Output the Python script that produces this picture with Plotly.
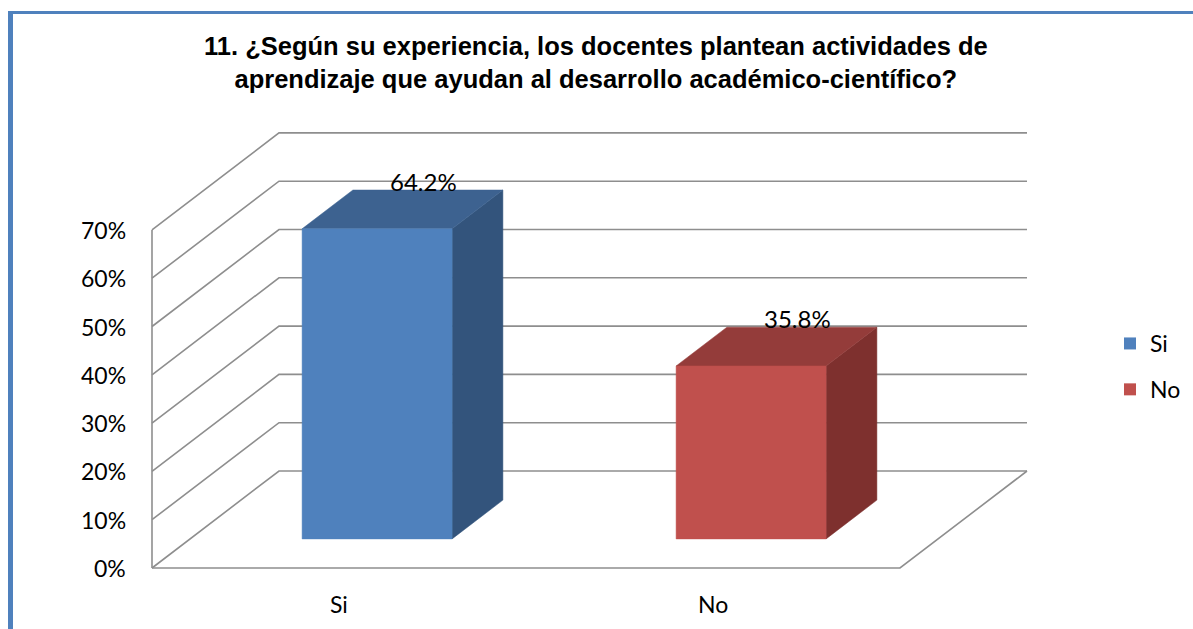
import plotly.graph_objects as go

# ---- data ----
categories = ["Si", "No"]
values = [0.642, 0.358]
value_labels = ["64.2%", "35.8%"]
tick_values = [0.0, 0.1, 0.2, 0.3, 0.4, 0.5, 0.6, 0.7]
tick_labels = ["0%", "10%", "20%", "30%", "40%", "50%", "60%", "70%"]
title_lines = ["11. ¿Según su experiencia, los docentes plantean actividades de",
               "aprendizaje que ayudan al desarrollo académico-científico?"]

front_colors = ["#4F81BD", "#C0504D"]
top_colors = ["#3D6290", "#943C3A"]
side_colors = ["#33547C", "#7E302E"]
grid_color = "#8E8E8E"
text_font = "Lato, Carlito, sans-serif"

W, H = 1193, 629
# pixel geometry of the pseudo-3D frame
PX_PER_CAT = 374.0
PX_PER_UNIT = 483.0
X0_PX, Y0_PX = 152.0, 568.0
DEPTH_DX, DEPTH_DY = 127.0 / PX_PER_CAT, 97.0 / PX_PER_UNIT
xr0 = -0.5 - X0_PX / PX_PER_CAT
xr1 = xr0 + W / PX_PER_CAT
yr0 = -(H - Y0_PX) / PX_PER_UNIT
yr1 = Y0_PX / PX_PER_UNIT
X_MIN, X_MAX = -0.5, len(categories) - 0.5
BAR_HALF = 0.2005
D0, D1 = 0.30, 0.70


def P(xc, v, d):
    return xc + d * DEPTH_DX, v + d * DEPTH_DY


def poly(points):
    xs = [p[0] for p in points] + [points[0][0]]
    ys = [p[1] for p in points] + [points[0][1]]
    return xs, ys


fig = go.Figure()

# gridlines (left wall + back wall)
for v in tick_values:
    pts = [P(X_MIN, v, 0), P(X_MIN, v, 1), P(X_MAX, v, 1)]
    fig.add_trace(go.Scatter(x=[p[0] for p in pts], y=[p[1] for p in pts], mode="lines",
                             line=dict(color=grid_color, width=1.6), showlegend=False, hoverinfo="skip"))
# floor front + right edges
pts = [P(X_MIN, 0, 0), P(X_MAX, 0, 0), P(X_MAX, 0, 1)]
fig.add_trace(go.Scatter(x=[p[0] for p in pts], y=[p[1] for p in pts], mode="lines",
                         line=dict(color=grid_color, width=1.6), showlegend=False, hoverinfo="skip"))
# vertical axis line
pts = [P(X_MIN, 0, 0), P(X_MIN, tick_values[-1], 0)]
fig.add_trace(go.Scatter(x=[p[0] for p in pts], y=[p[1] for p in pts], mode="lines",
                         line=dict(color=grid_color, width=1.6), showlegend=False, hoverinfo="skip"))

# bars
for i, (cat, v) in enumerate(zip(categories, values)):
    c = i
    side = [P(c + BAR_HALF, 0, D0), P(c + BAR_HALF, 0, D1), P(c + BAR_HALF, v, D1), P(c + BAR_HALF, v, D0)]
    top = [P(c - BAR_HALF, v, D0), P(c + BAR_HALF, v, D0), P(c + BAR_HALF, v, D1), P(c - BAR_HALF, v, D1)]
    front = [P(c - BAR_HALF, 0, D0), P(c + BAR_HALF, 0, D0), P(c + BAR_HALF, v, D0), P(c - BAR_HALF, v, D0)]
    for face, col in ((side, side_colors[i]), (top, top_colors[i]), (front, front_colors[i])):
        xs, ys = poly(face)
        fig.add_trace(go.Scatter(x=xs, y=ys, mode="lines", fill="toself", fillcolor=col,
                                 line=dict(color=col, width=0.5), showlegend=False, hoverinfo="skip"))
    lx, ly = P(c, v, D1)
    fig.add_annotation(x=lx, y=ly, text=value_labels[i], showarrow=False, xanchor="center",
                       yanchor="middle", yshift=9, xshift=-4,
                       font=dict(family=text_font, size=24, color="#000000"))
    cx, cy = P(c, 0, 0)
    fig.add_annotation(x=cx, y=cy, text=cat, showarrow=False, xanchor="center", yanchor="middle",
                       yshift=-36, font=dict(family=text_font, size=23, color="#000000"))

# legend entries
for i, cat in enumerate(categories):
    fig.add_trace(go.Bar(x=[None], y=[None], name=cat, marker=dict(color=front_colors[i], line=dict(width=0)),
                         legendgroup=cat, showlegend=True, hoverinfo="skip"))

# y tick labels
for v, t in zip(tick_values, tick_labels):
    tx, ty = P(X_MIN, v, 0)
    fig.add_annotation(x=tx, y=ty, text=t, showarrow=False, xanchor="right", yanchor="middle",
                       xshift=-24, font=dict(family=text_font, size=23, color="#000000"))

# title
fig.add_annotation(xref="paper", yref="paper", x=596 / W, y=1 - 63 / H,
                   text="<b>" + "<br>".join(title_lines) + "</b>",
                   showarrow=False, xanchor="center", yanchor="middle",
                   font=dict(family="Liberation Sans, Arial, sans-serif", size=25.5, color="#000000"))

# blue frame
fig.add_shape(type="rect", xref="paper", yref="paper", x0=8 / W, x1=13 / W, y0=0, y1=1 - 11 / H,
              fillcolor="#4F81BD", line=dict(width=0), layer="above")
fig.add_shape(type="rect", xref="paper", yref="paper", x0=8 / W, x1=1, y0=1 - 14 / H, y1=1 - 11 / H,
              fillcolor="#4F81BD", line=dict(width=0), layer="above")

fig.update_layout(
    width=W, height=H, margin=dict(l=0, r=0, t=0, b=0),
    paper_bgcolor="white", plot_bgcolor="white",
    xaxis=dict(range=[xr0, xr1], visible=False, fixedrange=True),
    yaxis=dict(range=[yr0, yr1], visible=False, fixedrange=True),
    legend=dict(x=1110 / W, y=1 - 322 / H, xanchor="left", yanchor="top",
                font=dict(family=text_font, size=23, color="#000000"),
                bgcolor="rgba(0,0,0,0)", tracegroupgap=13, itemwidth=30),
    showlegend=True, barmode="overlay",
)

fig.write_html("out.html", config={"displayModeBar": False},
               post_script="document.body.style.margin='0';document.body.style.overflow='hidden';")
